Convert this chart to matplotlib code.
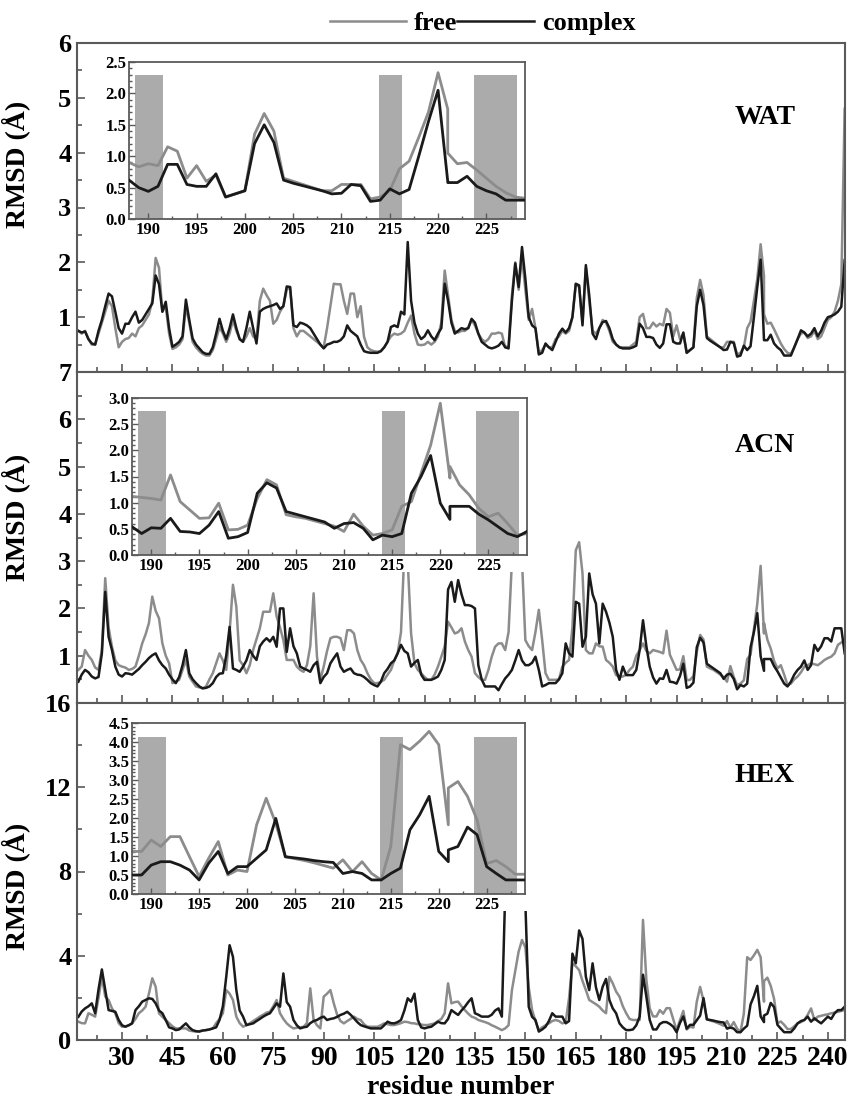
import numpy as np
import matplotlib
matplotlib.use("Agg")
import matplotlib.pyplot as plt
from matplotlib.ticker import MultipleLocator, FixedLocator
from matplotlib.patches import Rectangle

# residue numbers (residue 221 appears twice: insertion residue)
residue = list(range(17, 222)) + list(range(221, 246))

wat_complex = [
    0.75, 0.72, 0.74, 0.60, 0.52, 0.50, 0.75, 0.95, 1.20, 1.43,
    1.38, 1.10, 0.80, 0.70, 0.88, 0.88, 1.00, 1.10, 0.90, 0.95,
    1.05, 1.15, 1.25, 1.76, 1.60, 1.10, 1.28, 0.80, 0.46, 0.50,
    0.55, 0.65, 1.32, 0.95, 0.61, 0.50, 0.43, 0.36, 0.33, 0.33,
    0.45, 0.70, 0.97, 0.75, 0.60, 0.80, 1.05, 0.80, 0.60, 0.55,
    0.80, 1.10, 0.80, 0.52, 1.10, 1.15, 1.18, 1.20, 1.22, 1.25,
    1.15, 1.20, 1.56, 1.55, 0.85, 0.82, 0.90, 0.88, 0.85, 0.80,
    0.70, 0.60, 0.50, 0.43, 0.50, 0.52, 0.55, 0.55, 0.58, 0.65,
    0.85, 0.75, 0.70, 0.65, 0.50, 0.38, 0.36, 0.35, 0.35, 0.35,
    0.38, 0.45, 0.55, 0.82, 0.85, 0.82, 1.10, 1.05, 2.37, 1.30,
    0.90, 0.70, 0.60, 0.65, 0.76, 0.65, 0.58, 0.70, 0.80, 1.61,
    1.30, 0.90, 0.70, 0.75, 0.80, 0.78, 0.80, 0.97, 0.90, 0.70,
    0.55, 0.50, 0.45, 0.43, 0.45, 0.48, 0.55, 0.45, 0.43, 1.30,
    1.98, 1.55, 2.28, 1.70, 1.00, 0.85, 0.80, 0.32, 0.35, 0.52,
    0.45, 0.40, 0.55, 0.70, 0.79, 0.72, 0.80, 1.00, 1.61, 1.58,
    0.85, 1.95, 1.40, 0.70, 0.60, 0.80, 0.91, 0.93, 0.80, 0.60,
    0.50, 0.45, 0.43, 0.43, 0.43, 0.45, 0.48, 0.88, 0.80, 0.64, 0.64,
    0.62, 0.50, 0.44, 0.52, 0.87, 0.87, 0.55, 0.52, 0.52, 0.72,
    0.35, 0.40, 0.45, 1.20, 1.50, 1.22, 0.62, 0.57, 0.53, 0.49,
    0.45, 0.40, 0.41, 0.55, 0.53, 0.28, 0.30, 0.48, 0.40, 0.47,
    1.00, 1.55, 2.05, 0.60, 0.58,
    0.58, 0.68, 0.52, 0.45, 0.40, 0.30, 0.30, 0.30, 0.45, 0.60,
    0.76, 0.72, 0.65, 0.70, 0.80, 0.65, 0.75, 0.90, 1.00, 1.02,
    1.05, 1.10, 1.19, 2.04]

wat_free = [
    0.75, 0.70, 0.75, 0.60, 0.50, 0.50, 0.70, 0.90, 1.10, 1.30,
    1.20, 0.80, 0.45, 0.55, 0.60, 0.62, 0.70, 0.65, 0.80, 0.85,
    0.95, 1.05, 1.30, 2.08, 1.90, 1.10, 1.20, 0.70, 0.42, 0.45,
    0.50, 0.60, 1.20, 0.90, 0.55, 0.45, 0.38, 0.33, 0.30, 0.30,
    0.40, 0.60, 0.82, 0.70, 0.55, 0.70, 0.95, 0.75, 0.60, 0.55,
    0.65, 0.80, 0.65, 0.60, 1.30, 1.52, 1.40, 1.30, 0.88, 0.95,
    1.10, 1.20, 1.50, 1.55, 0.80, 0.65, 0.75, 0.75, 0.70, 0.65,
    0.60, 0.55, 0.50, 0.45, 0.80, 1.20, 1.61, 1.60, 1.60, 1.30,
    1.06, 1.43, 1.43, 1.00, 1.20, 0.64, 0.45, 0.40, 0.38, 0.37,
    0.38, 0.45, 0.55, 0.65, 0.70, 0.68, 0.70, 0.75, 0.90, 1.03,
    0.70, 0.50, 0.49, 0.50, 0.55, 0.50, 0.55, 0.65, 0.90, 1.85,
    1.40, 0.95, 0.75, 0.72, 0.75, 0.75, 0.80, 0.95, 0.85, 0.70,
    0.60, 0.55, 0.60, 0.70, 0.70, 0.72, 0.70, 0.45, 0.48, 1.40,
    2.00, 1.50, 2.10, 1.50, 0.95, 1.15, 0.80, 0.35, 0.40, 0.50,
    0.45, 0.45, 0.60, 0.65, 0.75, 0.70, 0.75, 1.00, 1.60, 1.55,
    0.90, 1.90, 1.30, 0.75, 0.70, 0.80, 0.95, 0.90, 0.75, 0.55,
    0.50, 0.45, 0.45, 0.45, 0.45, 0.50, 0.55, 1.00, 1.06, 0.80, 0.80,
    0.90, 0.83, 0.88, 0.85, 1.15, 1.08, 0.65, 0.85, 0.60, 0.70,
    0.35, 0.40, 0.45, 1.35, 1.68, 1.40, 0.65, 0.60, 0.55, 0.50,
    0.45, 0.45, 0.55, 0.55, 0.55, 0.32, 0.35, 0.45, 0.80, 0.92,
    1.30, 1.70, 2.33, 1.75, 1.05,
    0.88, 0.90, 0.78, 0.65, 0.52, 0.42, 0.35, 0.33, 0.45, 0.60,
    0.70, 0.72, 0.62, 0.65, 0.75, 0.60, 0.65, 0.80, 0.95, 1.00,
    1.10, 1.30, 1.60, 4.80]

acn_complex = [
    0.45, 0.60, 0.70, 0.65, 0.56, 0.52, 0.55, 1.05, 2.35, 1.40,
    1.12, 0.77, 0.60, 0.56, 0.63, 0.62, 0.60, 0.66, 0.72, 0.80,
    0.87, 0.95, 1.01, 1.05, 0.90, 0.80, 0.73, 0.60, 0.50, 0.42,
    0.55, 0.80, 1.12, 0.63, 0.50, 0.42, 0.35, 0.31, 0.32, 0.35,
    0.42, 0.55, 0.62, 0.63, 1.00, 1.61, 0.73, 0.70, 0.66, 0.77,
    0.90, 1.12, 1.00, 0.91, 1.20, 1.30, 1.37, 1.30, 1.40, 1.19,
    2.00, 2.00, 1.08, 1.58, 1.20, 1.05, 0.77, 0.73, 0.70, 0.66,
    0.80, 0.87, 0.42, 0.55, 0.63, 0.84, 0.95, 1.05, 0.77, 0.66,
    0.70, 0.73, 0.63, 0.60, 0.59, 0.55, 0.49, 0.42, 0.38, 0.35,
    0.45, 0.63, 0.72, 0.84, 0.90, 1.05, 1.23, 1.10, 1.05, 0.77,
    0.85, 0.91, 0.60, 0.49, 0.49, 0.49, 0.52, 0.56, 0.70, 0.91,
    2.40, 2.56, 2.14, 2.60, 2.30, 2.07, 2.07, 2.05, 2.00, 0.80,
    0.50, 0.35, 0.35, 0.35, 0.35, 0.27, 0.40, 0.52, 0.60, 0.70,
    0.90, 1.12, 0.90, 0.80, 0.80, 0.85, 0.98, 0.70, 0.35, 0.38,
    0.42, 0.42, 0.42, 0.50, 0.63, 1.26, 1.05, 0.98, 2.14, 2.10,
    1.19, 1.40, 2.74, 2.30, 2.10, 1.26, 2.10, 1.93, 1.70, 1.40,
    0.70, 0.49, 0.77, 0.59, 0.59, 0.59, 0.70, 1.12, 1.75, 1.20, 0.77,
    0.54, 0.41, 0.52, 0.51, 0.70, 0.45, 0.44, 0.41, 0.57, 0.83,
    0.32, 0.35, 0.43, 1.18, 1.38, 1.28, 0.83, 0.78, 0.73, 0.68,
    0.63, 0.51, 0.60, 0.62, 0.51, 0.29, 0.38, 0.35, 0.41, 1.18,
    1.50, 1.90, 0.99, 0.68, 0.93,
    0.93, 0.93, 0.78, 0.67, 0.54, 0.41, 0.35, 0.45, 0.60, 0.70,
    0.77, 0.90, 0.70, 0.80, 1.23, 1.10, 1.20, 1.37, 1.37, 1.30,
    1.58, 1.58, 1.58, 1.05]

acn_free = [
    0.70, 0.77, 1.12, 1.00, 0.91, 0.75, 0.70, 1.12, 2.64, 1.60,
    1.19, 0.90, 0.80, 0.77, 0.75, 0.70, 0.72, 0.77, 1.00, 1.26,
    1.45, 1.69, 2.25, 1.95, 1.79, 1.26, 1.00, 0.84, 0.42, 0.45,
    0.49, 0.70, 0.91, 0.56, 0.45, 0.35, 0.33, 0.31, 0.35, 0.50,
    0.63, 0.84, 1.05, 0.90, 0.70, 1.50, 2.50, 2.04, 0.90, 0.80,
    0.63, 0.80, 1.12, 1.35, 1.58, 1.93, 1.93, 1.93, 2.32, 1.83,
    1.60, 1.33, 0.91, 0.91, 0.91, 0.77, 0.70, 0.66, 0.80, 1.20,
    2.32, 0.98, 0.49, 0.77, 1.10, 1.37, 1.40, 1.40, 1.37, 1.12,
    1.54, 1.54, 1.47, 1.12, 0.91, 0.80, 0.63, 0.50, 0.42, 0.42,
    0.45, 0.49, 0.60, 0.70, 0.90, 1.05, 1.50, 3.20, 3.00, 1.47,
    0.84, 0.70, 0.63, 0.55, 0.49, 0.49, 0.60, 0.77, 0.98, 1.20,
    1.72, 1.60, 1.47, 1.50, 1.58, 1.30, 1.12, 0.98, 0.63, 0.55,
    0.49, 0.49, 0.70, 0.98, 1.19, 1.26, 1.26, 1.12, 1.50, 3.00,
    3.30, 3.30, 3.00, 1.33, 1.20, 1.12, 1.50, 1.97, 1.33, 0.63,
    0.49, 0.49, 0.49, 0.50, 0.77, 0.85, 0.91, 1.60, 3.23, 3.40,
    2.74, 1.12, 1.05, 1.05, 1.26, 1.20, 1.19, 0.91, 0.85, 0.77,
    0.59, 0.56, 0.56, 0.60, 0.70, 0.77, 1.00, 1.12, 1.26, 1.10, 1.05,
    1.12, 1.10, 1.08, 1.05, 1.53, 1.02, 0.86, 0.70, 0.71, 0.99,
    0.48, 0.49, 0.57, 1.08, 1.44, 1.34, 0.77, 0.73, 0.70, 0.65,
    0.60, 0.55, 0.45, 0.78, 0.55, 0.38, 0.41, 0.48, 0.93, 1.02,
    1.56, 2.10, 2.90, 1.47, 1.69,
    1.34, 1.15, 0.89, 0.73, 0.80, 0.60, 0.38, 0.41, 0.50, 0.56,
    0.65, 0.77, 0.80, 0.84, 0.82, 0.80, 0.85, 0.91, 0.95, 0.98,
    1.05, 1.23, 1.28, 1.33]

hex_complex = [
    1.10, 1.35, 1.50, 1.60, 1.74, 1.27, 2.40, 3.35, 2.37, 1.42,
    1.38, 1.34, 0.95, 0.70, 0.63, 0.70, 0.79, 1.42, 1.60, 1.82,
    1.90, 1.98, 1.95, 1.74, 1.40, 1.27, 0.95, 0.60, 0.55, 0.47,
    0.50, 0.65, 0.79, 0.60, 0.47, 0.42, 0.40, 0.45, 0.47, 0.50,
    0.55, 0.60, 0.95, 1.60, 3.00, 4.50, 3.95, 2.37, 1.40, 1.11,
    0.71, 0.75, 0.79, 0.90, 1.00, 1.11, 1.20, 1.27, 1.50, 1.74,
    1.58, 3.16, 1.80, 1.58, 0.95, 0.70, 0.55, 0.60, 0.63, 0.80,
    0.90, 0.95, 1.05, 1.11, 0.95, 1.00, 1.03, 1.10, 1.19, 1.25,
    1.34, 1.20, 1.03, 0.85, 0.71, 0.65, 0.60, 0.55, 0.55, 0.55,
    0.55, 0.70, 0.87, 0.80, 0.79, 0.85, 0.95, 1.40, 1.98, 1.82,
    2.20, 0.95, 0.60, 0.55, 0.60, 0.63, 0.75, 0.87, 0.80, 0.79,
    1.00, 1.42, 1.30, 1.19, 1.40, 1.58, 1.80, 1.98, 1.27, 1.20,
    1.11, 1.11, 1.11, 1.20, 1.40, 1.50, 1.11, 7.00, 7.50, 7.60,
    7.60, 7.50, 7.40, 6.50, 1.58, 1.10, 0.95, 0.40, 0.50, 0.63,
    0.90, 1.27, 1.11, 1.11, 1.11, 0.79, 0.90, 4.10, 3.64, 5.20,
    4.80, 3.00, 2.37, 3.64, 2.50, 1.90, 2.53, 2.90, 1.90, 1.50,
    1.27, 0.79, 0.60, 0.47, 0.47, 0.50, 0.70, 1.11, 3.10, 2.06, 0.95,
    0.50, 0.50, 0.76, 0.85, 0.85, 0.76, 0.63, 0.37, 0.81, 1.12,
    0.54, 0.72, 0.72, 0.94, 1.16, 1.99, 0.98, 0.95, 0.92, 0.88,
    0.85, 0.83, 0.54, 0.59, 0.54, 0.37, 0.37, 0.54, 0.68, 1.69,
    2.08, 2.57, 1.12, 0.85, 1.16,
    1.25, 1.76, 1.56, 0.72, 0.54, 0.37, 0.37, 0.37, 0.55, 0.79,
    0.90, 0.95, 1.11, 0.87, 1.03, 0.90, 0.79, 0.95, 1.11, 1.00,
    1.27, 1.42, 1.42, 1.58]

hex_free = [
    0.87, 0.80, 0.79, 1.27, 1.20, 1.11, 2.00, 3.00, 2.06, 1.90,
    1.50, 1.27, 0.80, 0.63, 0.65, 0.70, 0.79, 1.00, 1.27, 1.40,
    1.58, 2.20, 2.93, 2.53, 1.27, 1.10, 0.95, 0.80, 0.65, 0.55,
    0.55, 0.55, 0.55, 0.45, 0.42, 0.40, 0.42, 0.45, 0.47, 0.50,
    0.55, 0.80, 1.00, 1.27, 2.37, 2.20, 1.90, 1.11, 0.80, 0.63,
    0.70, 0.79, 0.90, 1.00, 1.11, 1.20, 1.30, 1.34, 1.60, 1.90,
    1.27, 1.00, 0.79, 0.65, 0.55, 0.58, 0.60, 0.63, 0.80, 2.45,
    0.95, 0.70, 0.55, 2.06, 2.20, 2.37, 1.74, 1.20, 0.90, 0.79,
    0.90, 1.00, 1.11, 1.00, 0.95, 0.75, 0.63, 0.63, 0.63, 0.63,
    0.70, 0.79, 0.75, 0.71, 0.71, 0.75, 0.80, 0.87, 0.85, 0.80,
    0.79, 0.75, 0.73, 0.71, 0.71, 0.75, 0.79, 0.90, 1.00, 1.27,
    2.69, 1.74, 1.80, 1.82, 1.60, 1.42, 1.25, 1.11, 1.05, 0.95,
    0.90, 0.85, 0.79, 0.70, 0.63, 0.55, 0.47, 0.55, 0.70, 2.37,
    3.30, 4.20, 4.75, 4.40, 2.50, 1.42, 0.90, 0.47, 0.60, 0.70,
    0.79, 0.90, 0.95, 0.90, 0.79, 0.85, 2.00, 3.64, 3.50, 3.32,
    2.80, 2.37, 1.90, 1.80, 1.70, 1.58, 1.40, 1.27, 3.00, 2.69,
    2.30, 2.06, 1.60, 1.27, 1.00, 0.95, 0.95, 0.95, 5.70, 2.85, 1.50,
    1.12, 1.12, 1.42, 1.25, 1.51, 1.51, 0.98, 0.46, 0.94, 1.38,
    0.50, 0.63, 0.59, 1.82, 2.52, 1.86, 0.98, 0.93, 0.88, 0.82,
    0.75, 0.68, 0.90, 0.59, 0.85, 0.54, 0.37, 1.25, 3.93, 3.80,
    4.02, 4.28, 3.93, 1.82, 2.79,
    2.96, 2.57, 1.95, 0.80, 0.88, 0.72, 0.52, 0.52, 0.65, 0.79,
    0.85, 0.95, 1.20, 1.50, 0.95, 1.11, 1.15, 1.19, 1.22, 1.27,
    1.30, 1.34, 1.38, 1.42]

panel_names = ["WAT", "ACN", "HEX"]
free_series = [wat_free, acn_free, hex_free]
complex_series = [wat_complex, acn_complex, hex_complex]

# shaded regions in the insets (residue spans) and their heights per panel
shade_spans = [(188.6, 191.5), (213.9, 216.3), (223.7, 228.2)]
shade_heights = [2.3, 2.75, 4.13]

main_xlim = (16.6, 245.1)
inset_xlim = (188, 229)
main_ylims = [(0, 6), (0, 7), (0, 16)]
main_yticks = [[1, 2, 3, 4, 5, 6], [1, 2, 3, 4, 5, 6, 7], [0, 4, 8, 12, 16]]
main_yminor = [0.5, 0.5, 2]
inset_ylims = [(0, 2.5), (0, 3.0), (0, 4.5)]
x_ticks = [30, 45, 60, 75, 90, 105, 120, 135, 150, 165, 180, 195, 210, 225, 240]
inset_xticks = [190, 195, 200, 205, 210, 215, 220, 225]

FREE_C = "#8c8c8c"
COMP_C = "#1a1a1a"
SPINE_C = "#5a5a5a"
SHADE_C = "#ababab"

plt.rcParams["font.family"] = ["Liberation Serif", "DejaVu Serif"]
plt.rcParams["font.weight"] = "bold"
plt.rcParams["axes.labelweight"] = "bold"

W, H = 847, 1100
fig = plt.figure(figsize=(W / 100, H / 100), dpi=100)

def fx(px):
    return px / W

def fy(py):
    return 1 - py / H

# main axes pixel boxes: (top, bottom)
main_boxes = [(43, 372), (372, 703), (703, 1040)]
ax_left, ax_right = 77, 845
ylabel_frac = [0.63, 0.56, 0.457]
label_pos = [(765, 118), (765, 445), (765, 775)]
# inset boxes: left, right, top, bottom in pixels
inset_boxes = [(129, 525, 62, 219), (132, 527, 398, 555), (132, 525, 723, 894)]

res = np.array(residue)
handles = None
for i in range(3):
    top, bot = main_boxes[i]
    ax = fig.add_axes([fx(ax_left), fy(bot), fx(ax_right - ax_left), (bot - top) / H])
    ax.set_zorder(0)
    lf, = ax.plot(res, free_series[i], color=FREE_C, lw=1.8, label="free")
    lc, = ax.plot(res, complex_series[i], color=COMP_C, lw=1.8, label="complex")
    if handles is None:
        handles = [lf, lc]
    ax.set_xlim(*main_xlim)
    ax.set_ylim(*main_ylims[i])
    ax.yaxis.set_major_locator(FixedLocator(main_yticks[i]))
    ax.yaxis.set_minor_locator(MultipleLocator(main_yminor[i]))
    ax.xaxis.set_major_locator(FixedLocator(x_ticks))
    ax.xaxis.set_minor_locator(MultipleLocator(7.5))
    ax.tick_params(which="both", direction="in", color=SPINE_C, width=1.2,
                   top=False, right=False)
    ax.tick_params(which="major", length=6, labelsize=19, pad=4)
    ax.tick_params(axis="x", which="major", labelsize=20)
    ax.tick_params(which="minor", length=3.5)
    for s in ax.spines.values():
        s.set_color(SPINE_C)
        s.set_linewidth(1.5)
    if i < 2:
        ax.tick_params(axis="x", labelbottom=False)
    else:
        ax.set_xlabel("residue number", fontsize=20, labelpad=3)
    ax.set_ylabel("RMSD (Å)", fontsize=20)
    ax.yaxis.set_label_coords(-0.061, ylabel_frac[i])
    fig.text(fx(label_pos[i][0]), fy(label_pos[i][1]), panel_names[i],
             fontsize=20, fontweight="bold", ha="center", va="center")

    # inset
    l, r, t, b = inset_boxes[i]
    fig.add_artist(Rectangle((fx(l - 30), fy(b + 17)), fx(r - l + 33), (b - t + 22) / H,
                             transform=fig.transFigure, facecolor="white",
                             edgecolor="none", zorder=1.5))
    axi = fig.add_axes([fx(l), fy(b), fx(r - l), (b - t) / H])
    axi.set_zorder(2)
    for (s0, s1) in shade_spans:
        axi.bar(s0, shade_heights[i], width=s1 - s0, align="edge", color=SHADE_C,
                edgecolor="none", zorder=1)
    mask = (res >= inset_xlim[0]) & (res <= inset_xlim[1])
    axi.plot(res[mask], np.array(free_series[i])[mask], color=FREE_C, lw=2.0, zorder=2)
    axi.plot(res[mask], np.array(complex_series[i])[mask], color=COMP_C, lw=2.0, zorder=3)
    axi.set_xlim(*inset_xlim)
    axi.set_ylim(*inset_ylims[i])
    axi.xaxis.set_major_locator(FixedLocator(inset_xticks))
    axi.xaxis.set_minor_locator(MultipleLocator(2.5))
    axi.yaxis.set_major_locator(MultipleLocator(0.5))
    axi.yaxis.set_minor_locator(MultipleLocator(0.1))
    axi.yaxis.set_major_formatter(matplotlib.ticker.FormatStrFormatter("%.1f"))
    axi.tick_params(which="both", direction="in", color=SPINE_C, width=1.0)
    axi.tick_params(which="major", length=4, labelsize=12, pad=2)
    axi.tick_params(which="minor", length=2)
    for s in axi.spines.values():
        s.set_color(SPINE_C)
        s.set_linewidth(1.3)

fig.legend(handles, ["free", "complex"], loc="center", bbox_to_anchor=(0.5697, 0.979),
           ncol=2, frameon=False, fontsize=19, handlelength=2.9, handletextpad=0.3,
           columnspacing=0.0, borderaxespad=0)

fig.savefig("out.png", dpi=100)
